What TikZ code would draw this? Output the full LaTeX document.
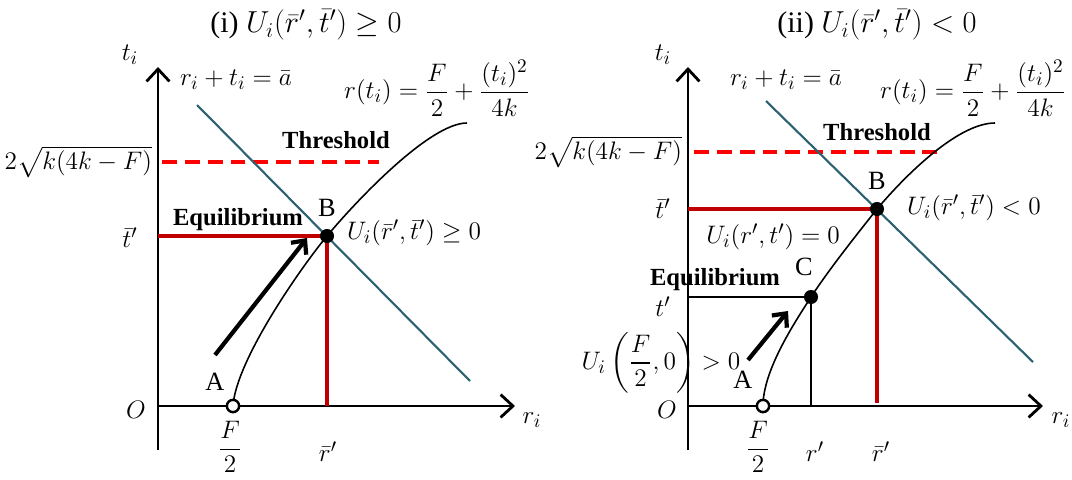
\documentclass[tikz,border=0pt]{standalone}
\usepackage{amsmath}
\usepackage{fontspec}
\setmainfont{Liberation Serif}
\usetikzlibrary{arrows.meta,positioning}
\definecolor{BudgetTeal}{HTML}{2B6170}
\definecolor{EqRed}{HTML}{C00000}
\definecolor{CapRed}{HTML}{FF0000}

\begin{document}
\begin{tikzpicture}[x=0.02cm, y=-0.02cm,
  every node/.style={font=\fontsize{15}{18}\selectfont, inner sep=1pt},
  title/.style={font=\fontsize{17}{20}\selectfont},
  bold/.style={font=\fontsize{14}{17}\selectfont\bfseries},
  axis/.style={line width=1.6pt, -{Straight Barb[length=7pt,width=13pt]}},
  budget/.style={BudgetTeal, line width=1.2pt},
  threshline/.style={CapRed, line width=2.2pt, dash pattern=on 8.5pt off 4.5pt},
  eqline/.style={EqRed, line width=1.8pt},
  curve/.style={line width=0.9pt},
  push/.style={line width=2.4pt, -{Straight Barb[length=6pt,width=11pt]}},
  eqdot/.style={circle, fill=black, minimum size=8pt, inner sep=0pt},
  opendot/.style={circle, draw, line width=1.4pt, fill=white, minimum size=7pt, inner sep=0pt}]
  \useasboundingbox (0,0) rectangle (1072,480);

  % (i) left panel
  \coordinate (lO) at (158,406);
  \coordinate (lYtop) at (158,67);
  \coordinate (lYbot) at (158,450);
  \coordinate (lXend) at (515,406);
  \coordinate (lB) at (327,236);
  \coordinate (lF) at (233,406);
  \coordinate (lTop) at (467,123);
  \coordinate (lCapL) at (162,162);
  \coordinate (lCapR) at (379,162);
  \coordinate (lBudTop) at (197,105);
  \coordinate (lBudBot) at (470,381);
  \coordinate (lArrS) at (215,355);
  \coordinate (lArrE) at (307,238);

  \draw[axis] (lYbot) -- (lYtop);
  \draw[axis] (lO) -- (lXend);
  \draw[threshline] (lCapL) -- (lCapR);
  \draw[budget] (lBudTop) -- (lBudBot);
  \draw[eqline] (lO |- lB) -- (lB) -- (lB |- lO);
  \draw[curve] (lF) .. controls (236,360) and (302,266) .. (lB)
    .. controls (357,200) and (430,123) .. (lTop);
  \draw[push] (lArrS) -- (lArrE);
  \node[eqdot] (lBdot) at (lB) {};
  \node[opendot] (lFdot) at (lF) {};

  \node[title] (ltitle) at (306,25) {(i) $U_i(\bar r',\bar t')\geq 0$};
  \node (lt) at (130,55) {$t_i$};
  \node (lr) at (532,420) {$r_i$};
  \node (lOlab) at (136,410) {$O$};
  \node (lFlab) at (230,447) {$\dfrac{F}{2}$};
  \node (lrbar) at (328,452) {$\bar r'$};
  \node (ltbar) at (130,238) {$\bar t'$};
  \node[anchor=east] (lsqrt) at (154,162) {$2\sqrt{k(4k-F)}$};
  \node (lbud) at (236,80) {$r_i+t_i=\bar a$};
  \node (lcurv) at (437,88) {$r(t_i)=\dfrac{F}{2}+\dfrac{(t_i)^2}{4k}$};
  \node[bold] (lthr) at (336,140) {Threshold};
  \node[bold] (leq) at (238,220) {Equilibrium};
  \node[above=10pt of lB] (lBlab) {B};
  \node (lAlab) at (215,382) {A};
  \node[anchor=west] (lUB) at (345,233) {$U_i(\bar r',\bar t')\geq 0$};

  % (ii) right panel
  \coordinate (rO) at (688,406);
  \coordinate (rYtop) at (688,67);
  \coordinate (rYbot) at (688,450);
  \coordinate (rXend) at (1043,406);
  \coordinate (rB) at (877,209);
  \coordinate (rC) at (811,297);
  \coordinate (rF) at (763,406);
  \coordinate (rTop) at (995,123);
  \coordinate (rCapL) at (694,152);
  \coordinate (rCapR) at (940,152);
  \coordinate (rBudTop) at (766,101);
  \coordinate (rBudBot) at (1033,362);
  \coordinate (rArrS) at (748,360);
  \coordinate (rArrE) at (788,311);

  \draw[axis] (rYbot) -- (rYtop);
  \draw[axis] (rO) -- (rXend);
  \draw[threshline] (rCapL) -- (rCapR);
  \draw[budget] (rBudTop) -- (rBudBot);
  \draw[eqline] (rO |- rB) -- (rB) -- (877,403);
  \draw[line width=1.6pt] (rO |- rC) -- (rC);
  \draw[line width=0.9pt] (rC) -- (rC |- rO);
  \draw[curve] (rF) .. controls (763,370) and (795,322) .. (rC)
    .. controls (830,268) and (858,233) .. (rB)
    .. controls (910,170) and (960,123) .. (rTop);
  \draw[push] (rArrS) -- (rArrE);
  \node[eqdot] (rBdot) at (rB) {};
  \node[eqdot] (rCdot) at (rC) {};
  \node[opendot] (rFdot) at (rF) {};

  \node[title] (rtitle) at (877,25) {(ii) $U_i(\bar r',\bar t')<0$};
  \node (rt) at (663,55) {$t_i$};
  \node (rr) at (1061,420) {$r_i$};
  \node (rOlab) at (667,410) {$O$};
  \node (rFlab) at (758,447) {$\dfrac{F}{2}$};
  \node (rrprime) at (815,452) {$r'$};
  \node (rrbar) at (881,452) {$\bar r'$};
  \node (rtbar) at (663,209) {$\bar t'$};
  \node (rtprime) at (663,307) {$t'$};
  \node[anchor=east] (rsqrt) at (684,152) {$2\sqrt{k(4k-F)}$};
  \node (rbud) at (786,80) {$r_i+t_i=\bar a$};
  \node (rcurv) at (973,88) {$r(t_i)=\dfrac{F}{2}+\dfrac{(t_i)^2}{4k}$};
  \node[bold] (rthr) at (877,132) {Threshold};
  \node[above=10pt of rB] (rBlab) {B};
  \node[anchor=west] (rUB) at (905,208) {$U_i(\bar r',\bar t')<0$};
  \node[anchor=east] (rUC) at (842,237) {$U_i(r',t')=0$};
  \node[above=11pt of rC, xshift=-4pt] (rClab) {C};
  \node[bold] (req) at (715,280) {Equilibrium};
  \node (rU0) at (661,363) {$U_i\left(\dfrac{F}{2},0\right)>0$};
  \node (rAlab) at (743,380) {A};
\end{tikzpicture}
\end{document}
